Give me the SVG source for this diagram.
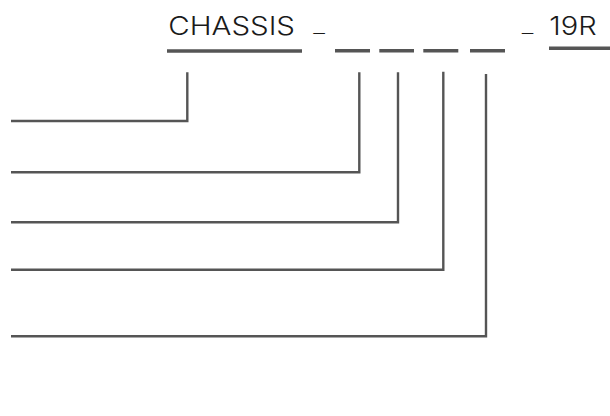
<svg xmlns="http://www.w3.org/2000/svg" width="610" height="416" viewBox="0 0 610 416">
<style>
.t{font-family:Inter,"Open Sans","Liberation Sans",sans-serif;font-size:25px;font-weight:300;fill:#1a1a1a}
.u{font-family:Inter,"Open Sans","Liberation Sans",sans-serif;font-size:14px;font-weight:300;fill:#1a1a1a}
.bar{stroke:#555;stroke-width:3.4;fill:none}
.c{stroke:#555;stroke-width:2.4;fill:none}
</style>
<rect width="610" height="416" fill="#fff"/>
<g id="chassis">
<text class="t" x="168.3" y="35" textLength="126.7" lengthAdjust="spacingAndGlyphs">CHASSIS</text>
<line class="bar" x1="167" y1="51" x2="302" y2="51"/>
</g>
<g id="sep1"><text class="u" x="313.3" y="33" textLength="11.7" lengthAdjust="spacingAndGlyphs">_</text></g>
<g id="slot1"><line class="bar" x1="335" y1="50.7" x2="370" y2="50.7"/></g>
<g id="slot2"><line class="bar" x1="379.3" y1="50.7" x2="414" y2="50.7"/></g>
<g id="slot3"><line class="bar" x1="423.3" y1="50.7" x2="458.3" y2="50.7"/></g>
<g id="slot4"><line class="bar" x1="470" y1="50.7" x2="505" y2="50.7"/></g>
<g id="sep2"><text class="u" x="521.7" y="33" textLength="11.6" lengthAdjust="spacingAndGlyphs">_</text></g>
<g id="r19">
<text class="t" x="549.3" y="35" textLength="47.4" lengthAdjust="spacingAndGlyphs">19R</text>
<line class="bar" x1="549" y1="48.3" x2="610" y2="48.3"/>
</g>
<g id="connectors">
<polyline class="c" points="11,121 187.3,121 187.3,72.3"/>
<polyline class="c" points="11,172.3 359.3,172.3 359.3,72.3"/>
<polyline class="c" points="11,222.3 398,222.3 398,72.3"/>
<polyline class="c" points="11,269.7 443.3,269.7 443.3,71.7"/>
<polyline class="c" points="11,336.3 486,336.3 486,74"/>
</g>
</svg>
